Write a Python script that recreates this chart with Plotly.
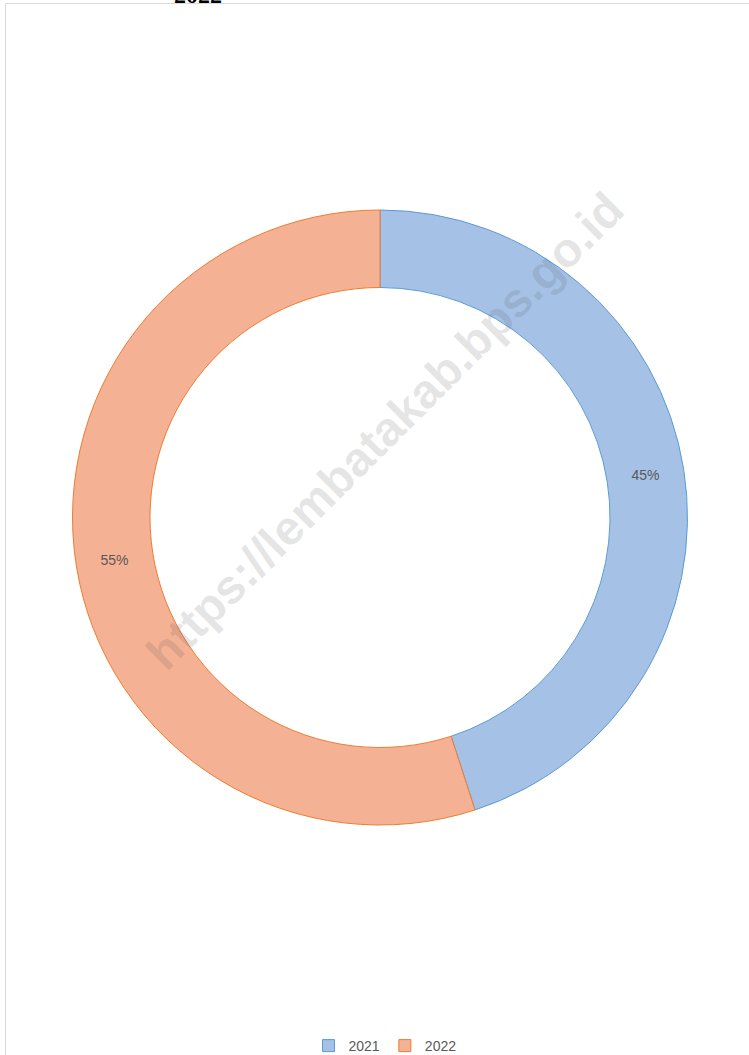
import plotly.graph_objects as go

years = ["2021", "2022"]
shares = [45, 55]
fill_colors = ["#a5c2e6", "#f5b194"]
line_colors = ["#5b9bd5", "#ed7d31"]
watermark = "https://lembatakab.bps.go.id"
title_text = "2022"

W, H = 749, 1055
cx, cy, r = 380, 517.5, 307.5

fig = go.Figure()
fig.add_trace(go.Pie(
    labels=years,
    values=shares,
    hole=0.748,
    sort=False,
    direction="clockwise",
    rotation=0,
    marker=dict(colors=fill_colors, line=dict(color=line_colors, width=1)),
    texttemplate="%{percent:.0%}",
    textposition="inside",
    insidetextorientation="horizontal",
    textfont=dict(family="Liberation Sans, Arial", size=14, color="#595959"),
    hoverinfo="label+percent",
    domain=dict(x=[(cx - r) / W, (cx + r) / W], y=[1 - (cy + r) / H, 1 - (cy - r) / H]),
))

fig.update_layout(
    width=W, height=H,
    margin=dict(l=0, r=0, t=0, b=0, autoexpand=False),
    paper_bgcolor="white",
    plot_bgcolor="white",
    showlegend=True,
    legend=dict(
        orientation="h", x=385 / W, xanchor="center",
        yref="container", y=1 - 1046 / H, yanchor="middle",
        font=dict(family="Liberation Sans, Arial", size=14, color="#595959"),
        itemwidth=30, traceorder="normal",
    ),
    shapes=[dict(type="rect", xref="paper", yref="paper",
                 x0=5.5 / W, x1=1.02, y0=-0.02, y1=1 - 3.5 / H,
                 line=dict(color="#d9d9d9", width=1), layer="below")],
    annotations=[
        dict(text="<b>" + watermark + "</b>", x=385 / W, y=1 - 430 / H, xref="paper", yref="paper",
             showarrow=False, textangle=-45, xanchor="center", yanchor="middle",
             font=dict(family="Liberation Sans, Arial", size=48, color="rgba(90,90,90,0.17)")),
        dict(text="<b>" + title_text + "</b>", x=198 / W, y=1 - 10 / H, xref="paper", yref="paper",
             showarrow=False, xanchor="center", yanchor="bottom",
             font=dict(family="Liberation Serif, Times New Roman", size=24, color="black")),
    ],
)

fig.write_html("out.html", config={"displayModeBar": False},
               post_script="document.body.style.margin='0';")
